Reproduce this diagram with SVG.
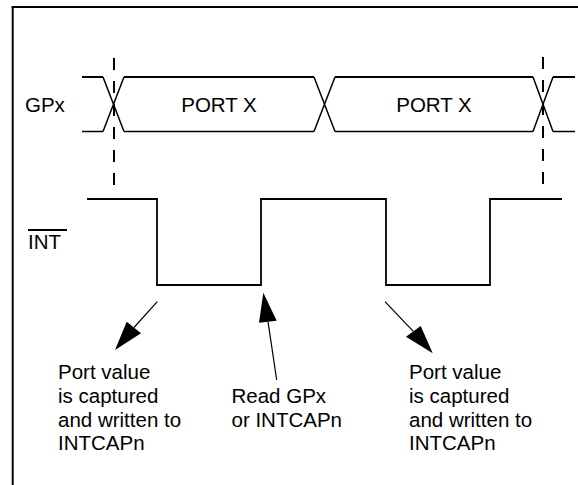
<svg xmlns="http://www.w3.org/2000/svg" width="578" height="485" viewBox="0 0 578 485">
<style>
.t{font-family:"Liberation Sans",Arial,sans-serif;font-size:20.5px;fill:#000}
.w{fill:none;stroke:#000;stroke-linejoin:miter}
.d{stroke:#000;stroke-width:2;stroke-dasharray:12 11}
.sh{stroke:#000;stroke-width:1.2}
.hd{fill:#000}
</style>
<rect width="578" height="485" fill="#fff"/>
<g id="frame">
<line x1="11.7" y1="7" x2="578" y2="7" stroke="#000" stroke-width="2"/>
<line x1="12.7" y1="6" x2="12.7" y2="485" stroke="#000" stroke-width="2"/>
</g>
<g id="guides">
<line class="d" x1="114" y1="58" x2="114" y2="192"/>
<line class="d" x1="543" y1="57" x2="543" y2="193"/>
</g>
<g id="gpx">
<path class="w" stroke-width="2" d="M82,77 H103 M124,77 H314 M335,77 H533 M553,77 H575"/>
<path class="w" stroke-width="1.5" d="M82,131.5 H103 M124,131.5 H314 M335,131.5 H533 M553,131.5 H575"/>
<path class="w" stroke-width="1.5" d="M103,77 L124,131.5 M103,131.5 L124,77 M314,77 L335,131.5 M314,131.5 L335,77 M533,77 L553,131.5 M533,131.5 L553,77"/>
<text class="t" x="25" y="112">GPx</text>
<text class="t" x="219" y="112" text-anchor="middle">PORT X</text>
<text class="t" x="434" y="112" text-anchor="middle">PORT X</text>
</g>
<g id="int">
<path class="w" stroke-width="1.8" d="M87,199 H157 V285 H261 V199 H386 V285 H490 V199 H562"/>
<text class="t" x="28" y="249">INT</text>
<line x1="28" y1="230" x2="67" y2="230" stroke="#000" stroke-width="1.8"/>
</g>
<g id="connectors">
<line class="sh" x1="157.3" y1="301.7" x2="134" y2="327.5"/>
<polygon class="hd" points="115,350 126.7,321.7 141,333.3"/>
<line class="sh" x1="276.7" y1="380" x2="268" y2="321.7"/>
<polygon class="hd" points="263.3,292.7 259,322.7 276.7,320.7"/>
<line class="sh" x1="385" y1="301.7" x2="413.3" y2="331.3"/>
<polygon class="hd" points="432.7,353.3 406,336.7 420.7,326"/>
</g>
<g id="label-capture-1">
<text class="t" x="58" y="379.3">Port value</text>
<text class="t" x="58" y="403">is captured</text>
<text class="t" x="58" y="426.7">and written to</text>
<text class="t" x="58" y="450.3">INTCAPn</text>
</g>
<g id="label-read">
<text class="t" x="231.5" y="403">Read GPx</text>
<text class="t" x="231.5" y="426.7">or INTCAPn</text>
</g>
<g id="label-capture-2">
<text class="t" x="409" y="379.3">Port value</text>
<text class="t" x="409" y="403">is captured</text>
<text class="t" x="409" y="426.7">and written to</text>
<text class="t" x="409" y="450.3">INTCAPn</text>
</g>
</svg>
